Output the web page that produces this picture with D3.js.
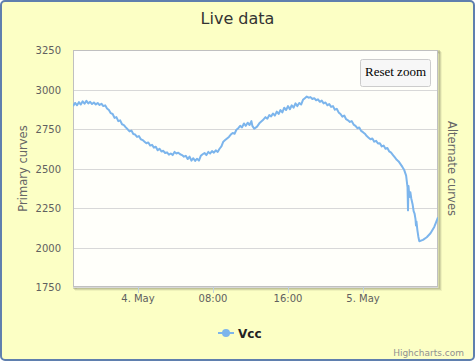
<!DOCTYPE html>
<html><head><meta charset="utf-8">
<script src="https://cdn.jsdelivr.net/npm/d3@7"></script>
<style>body{margin:0;padding:0;overflow:hidden;}svg{display:block;}</style>
</head><body>
<script>
// Data: hours since 4 May 00:00, and Vcc values
const hours = [-6.93,-6.7,-6.5,-6.3,-6.1,-5.9,-5.7,-5.5,-5.3,-5.1,-4.9,-4.7,-4.5,-4.3,-4.1,-3.9,-3.7,-3.5,-3.3,-3.1,-2.9,-2.7,-2.5,-2.3,-2.1,-1.9,-1.7,-1.5,-1.3,-1.1,-0.9,-0.7,-0.5,-0.3,-0.1,0.1,0.3,0.5,0.7,0.9,1.1,1.3,1.5,1.7,1.9,2.1,2.3,2.5,2.7,2.9,3.1,3.3,3.5,3.7,3.9,4.1,4.3,4.5,4.7,4.9,5.1,5.3,5.5,5.7,5.9,6.1,6.3,6.5,6.7,6.9,7.1,7.3,7.5,7.7,7.9,8.1,8.3,8.5,8.7,8.9,9.1,9.3,9.5,9.7,9.9,10.1,10.3,10.5,10.7,10.9,11.1,11.3,11.5,11.7,11.9,12.1,12.2,12.4,12.7,13.0,13.3,13.6,13.8,14.0,14.2,14.4,14.6,14.8,15.0,15.2,15.4,15.6,15.8,16.0,16.2,16.4,16.6,16.8,17.0,17.2,17.4,17.6,17.8,18.0,18.2,18.4,18.6,18.8,19.0,19.2,19.4,19.6,19.8,20.0,20.2,20.4,20.6,20.8,21.0,21.2,21.4,21.6,21.8,22.0,22.2,22.4,22.6,22.8,23.0,23.2,23.4,23.6,23.8,24.0,24.2,24.4,24.6,24.8,25.0,25.2,25.4,25.6,25.8,26.0,26.2,26.4,26.6,26.8,27.0,27.2,27.4,27.6,27.8,28.0,28.2,28.4,28.6,28.75,28.8,28.85,28.95,29.05,29.15,29.3,29.4,29.5,29.6,29.65,29.7,29.8,29.9,30.0,30.4,30.8,31.2,31.6,32.0];
const vcc = [2895,2915,2900,2920,2905,2925,2910,2928,2912,2922,2908,2918,2905,2915,2902,2910,2895,2900,2880,2870,2850,2845,2820,2825,2800,2805,2780,2775,2760,2748,2735,2740,2718,2715,2700,2705,2685,2680,2670,2660,2665,2645,2650,2632,2638,2615,2625,2608,2612,2598,2602,2588,2595,2585,2605,2595,2600,2590,2585,2575,2580,2560,2575,2550,2565,2548,2562,2550,2580,2590,2598,2585,2605,2595,2610,2600,2615,2605,2625,2640,2670,2680,2690,2700,2715,2725,2720,2745,2755,2770,2760,2785,2770,2790,2775,2800,2770,2752,2765,2790,2805,2825,2815,2838,2830,2848,2835,2860,2845,2870,2855,2885,2870,2895,2875,2900,2885,2912,2895,2915,2905,2935,2945,2955,2948,2952,2940,2945,2932,2938,2922,2930,2912,2918,2900,2908,2890,2895,2872,2878,2855,2845,2828,2835,2812,2805,2795,2800,2778,2770,2755,2760,2738,2730,2720,2705,2695,2685,2690,2670,2675,2658,2660,2640,2645,2625,2630,2608,2600,2585,2570,2555,2545,2528,2510,2490,2455,2380,2235,2390,2320,2350,2310,2270,2230,2215,2180,2140,2165,2110,2070,2040,2048,2065,2090,2130,2190];
const yTicks = [1750,2000,2250,2500,2750,3000,3250];
const xTickHours = [0,8,16,24];
const xTickLabels = ["4. May","08:00","16:00","5. May"];
const seriesName = "Vcc";
const titleText = "Live data";
const yTitle = "Primary curves";
const y2Title = "Alternate curves";

const W = 475, H = 361;
const base = new Date(2014,4,4,0,0,0);
const toDate = h => new Date(base.getTime() + h*3600000);
const plot = {l:73, t:50, r:438, b:287};

const svg = d3.select("body").append("svg").attr("width",W).attr("height",H);
const font = "'DejaVu Sans', Verdana, sans-serif";

svg.append("rect").attr("x",1).attr("y",1).attr("width",W-2).attr("height",H-2)
  .attr("rx",4).attr("fill","#FCFFC5").attr("stroke","#5f7fae").attr("stroke-width",2);

svg.append("text").attr("x",W/2).attr("y",24).attr("text-anchor","middle")
  .attr("font-family",font).attr("font-size",16).attr("fill","#333").text(titleText);

const x = d3.scaleTime().domain([toDate(-6.93), toDate(32)]).range([plot.l, plot.r]);
const y = d3.scaleLinear().domain([1750,3250]).range([plot.b, plot.t]);

// plot shadow
[3,2,1].forEach((o,i)=>{
  svg.append("rect").attr("x",plot.l+o).attr("y",plot.t+o).attr("width",plot.r-plot.l).attr("height",plot.b-plot.t)
    .attr("fill","none").attr("stroke","#000").attr("stroke-opacity",0.05*(i+1)).attr("stroke-width",2);
});
svg.append("rect").attr("x",plot.l).attr("y",plot.t).attr("width",plot.r-plot.l).attr("height",plot.b-plot.t)
  .attr("fill","#FFFFFA");

// grid
svg.append("g").selectAll("line").data(yTicks).join("line")
  .attr("x1",plot.l).attr("x2",plot.r)
  .attr("y1",d=>Math.round(y(d))+0.5).attr("y2",d=>Math.round(y(d))+0.5)
  .attr("stroke","#D8D8D8").attr("stroke-width",1);

// y labels
svg.append("g").selectAll("text").data(yTicks).join("text")
  .attr("x",61).attr("y",d=>y(d)+4).attr("text-anchor","end")
  .attr("font-family",font).attr("font-size",10).attr("fill","#606060").text(d=>d);

// x axis ticks & labels
const xg = svg.append("g");
xg.selectAll("line").data(xTickHours).join("line")
  .attr("x1",d=>Math.round(x(toDate(d)))+0.5).attr("x2",d=>Math.round(x(toDate(d)))+0.5)
  .attr("y1",plot.b).attr("y2",plot.b+6).attr("stroke","#C0D0E0");
xg.selectAll("text").data(xTickHours).join("text")
  .attr("x",d=>x(toDate(d))).attr("y",plot.b+15).attr("text-anchor","middle")
  .attr("font-family",font).attr("font-size",10).attr("fill","#606060")
  .text((d,i)=>xTickLabels[i]);

// axis titles
svg.append("text").attr("transform",`translate(27,${(plot.t+plot.b)/2}) rotate(-90)`)
  .attr("text-anchor","middle").attr("font-family",font).attr("font-size",11.5).attr("fill","#666").text(yTitle);
svg.append("text").attr("transform",`translate(448,${(plot.t+plot.b)/2}) rotate(90)`)
  .attr("text-anchor","middle").attr("font-family",font).attr("font-size",11.5).attr("fill","#666").text(y2Title);

// plot border
svg.append("rect").attr("x",plot.l+0.5).attr("y",plot.t+0.5).attr("width",plot.r-plot.l-1).attr("height",plot.b-plot.t-1)
  .attr("fill","none").attr("stroke","#C0C0C0").attr("stroke-width",1);

// line
const data = hours.map((h,i)=>({t:toDate(h), v:vcc[i]}));
const clip = svg.append("clipPath").attr("id","c").append("rect")
  .attr("x",plot.l).attr("y",plot.t).attr("width",plot.r-plot.l).attr("height",plot.b-plot.t);
svg.append("path").datum(data).attr("clip-path","url(#c)")
  .attr("d", d3.line().x(d=>x(d.t)).y(d=>y(d.v)))
  .attr("fill","none").attr("stroke","#7cb5ec").attr("stroke-width",2).attr("stroke-linejoin","round");

// reset zoom button
const bx = 360, by = 59;
svg.append("rect").attr("x",bx+0.5).attr("y",by+0.5).attr("width",70).attr("height",27).attr("rx",2)
  .attr("fill","#F7F7F7").attr("stroke","#CCCCCC");
svg.append("text").attr("x",bx+35.5).attr("y",by+17).attr("text-anchor","middle")
  .attr("font-family","'Liberation Serif', serif").attr("font-size",13).attr("fill","#000").text("Reset zoom");

// legend
const lx = 218, ly = 333;
svg.append("line").attr("x1",lx).attr("x2",lx+16).attr("y1",ly).attr("y2",ly).attr("stroke","#7cb5ec").attr("stroke-width",2);
svg.append("circle").attr("cx",lx+8).attr("cy",ly).attr("r",4).attr("fill","#7cb5ec");
svg.append("text").attr("x",lx+20).attr("y",ly+4.5).attr("font-family",font).attr("font-size",12)
  .attr("font-weight","bold").attr("fill","#222").text(seriesName);

// credits
svg.append("text").attr("x",464).attr("y",356).attr("text-anchor","end")
  .attr("font-family",font).attr("font-size",9).attr("fill","#909090").text("Highcharts.com");
</script>
</body></html>
